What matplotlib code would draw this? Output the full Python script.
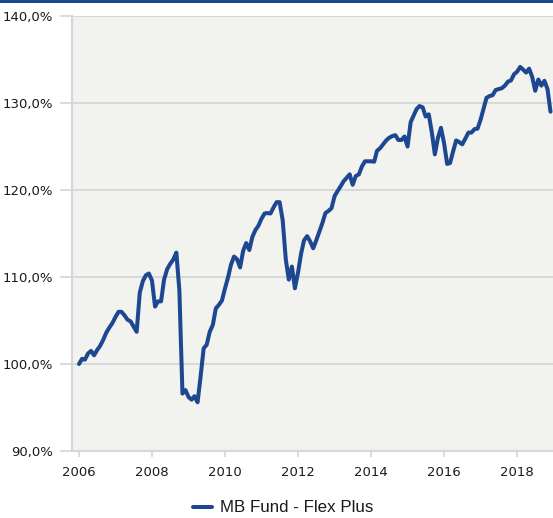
import matplotlib
matplotlib.use("Agg")
import matplotlib.pyplot as plt
import matplotlib.dates as mdates
from matplotlib.patches import Rectangle
from matplotlib.ticker import FuncFormatter, MultipleLocator
import pandas as pd

# Monthly index level of the fund (start = 100 %)
start_month = "2006-01-01"
fund_name = "MB Fund - Flex Plus"
fund_values = [
    100.0, 100.6, 100.5, 101.2, 101.5, 101.0, 101.6, 102.1, 102.8, 103.6,
    104.2, 104.7, 105.4, 106.0, 106.0, 105.6, 105.1, 104.9, 104.3, 103.7,
    108.2, 109.5, 110.2, 110.4, 109.6, 106.6, 107.2, 107.2, 109.7, 110.9,
    111.5, 112.0, 112.8, 108.5, 96.6, 97.0, 96.2, 95.9, 96.3, 95.6,
    98.5, 101.8, 102.2, 103.7, 104.5, 106.4, 106.8, 107.3, 108.7, 110.0,
    111.4, 112.35, 112.05, 111.1, 113.0, 113.9, 113.1, 114.6, 115.4, 115.9,
    116.7, 117.3, 117.35, 117.3, 118.0, 118.6, 118.6, 116.5, 112.0, 109.7,
    111.2, 108.7, 110.5, 112.7, 114.2, 114.7, 114.1, 113.3, 114.2, 115.2,
    116.2, 117.35, 117.6, 117.9, 119.3, 119.9, 120.4, 121.0, 121.4, 121.8,
    120.6, 121.6, 121.8, 122.7, 123.3, 123.3, 123.3, 123.25, 124.5, 124.8,
    125.25, 125.7, 126.0, 126.2, 126.3, 125.75, 125.75, 126.15, 125.0, 127.8,
    128.5, 129.3, 129.65, 129.5, 128.45, 128.7, 126.6, 124.1, 126.0, 127.15,
    125.4, 123.0, 123.1, 124.45, 125.7, 125.5, 125.25, 125.9, 126.6, 126.6,
    127.0, 127.05, 128.1, 129.4, 130.6, 130.8, 130.9, 131.5, 131.6, 131.7,
    132.0, 132.45, 132.6, 133.3, 133.6, 134.15, 133.85, 133.5, 133.95, 133.0,
    131.4, 132.7, 132.0, 132.55, 131.6, 129.0,
]
tick_years = [2006, 2008, 2010, 2012, 2014, 2016, 2018]

dates = pd.date_range(start_month, periods=len(fund_values), freq="MS")

line_blue = "#1d4891"
grid_grey = "#d6d6d6"
text_col = "#1a1a1a"

fig = plt.figure(figsize=(5.53, 5.18), dpi=100)
fig.patch.set_facecolor("white")

# thin brand bar across the top edge
fig.patches.append(Rectangle((0, 1 - 3 / 518), 1, 3 / 518, transform=fig.transFigure,
                             facecolor=line_blue, edgecolor="none"))

ax = fig.add_axes([72 / 553, 1 - 451 / 518, 1 - 72 / 553, (451 - 16) / 518])
ax.set_facecolor("#f2f2ee")

ax.plot(dates, fund_values, color=line_blue, lw=2.9, solid_joinstyle="round",
        solid_capstyle="round", label=fund_name, zorder=3)

ax.set_ylim(90, 140)
ax.yaxis.set_major_locator(MultipleLocator(10))
ax.yaxis.set_major_formatter(FuncFormatter(lambda v, _: f"{v:.1f}%".replace(".", ",")))

x_left = mdates.date2num(pd.Timestamp("2006-01-01")) - 70
x_right = mdates.date2num(dates[-1]) + 25
ax.set_xlim(x_left, x_right)
ax.set_xticks([mdates.date2num(pd.Timestamp(f"{y}-01-01")) for y in tick_years])
ax.set_xticklabels([str(y) for y in tick_years])

ax.grid(axis="y", color=grid_grey, lw=1.3)
ax.set_axisbelow(True)
for side in ("top", "right"):
    ax.spines[side].set_visible(False)
for side in ("left", "bottom"):
    ax.spines[side].set_color(grid_grey)
    ax.spines[side].set_linewidth(1.5)

ax.tick_params(axis="y", length=8.6, width=1.2, color=grid_grey, pad=5,
               labelsize=9.5, labelcolor=text_col)
ax.tick_params(axis="x", length=4.5, width=1.2, color=grid_grey, pad=6,
               labelsize=9.5, labelcolor=text_col)

leg = fig.legend(loc="center", bbox_to_anchor=(283 / 553, 1 - 508 / 518), frameon=False,
                 prop={"family": "Liberation Sans", "size": 12.2}, handlelength=1.15,
                 handletextpad=0.45)
for t in leg.get_texts():
    t.set_color(text_col)

fig.savefig("out.png", dpi=100)
